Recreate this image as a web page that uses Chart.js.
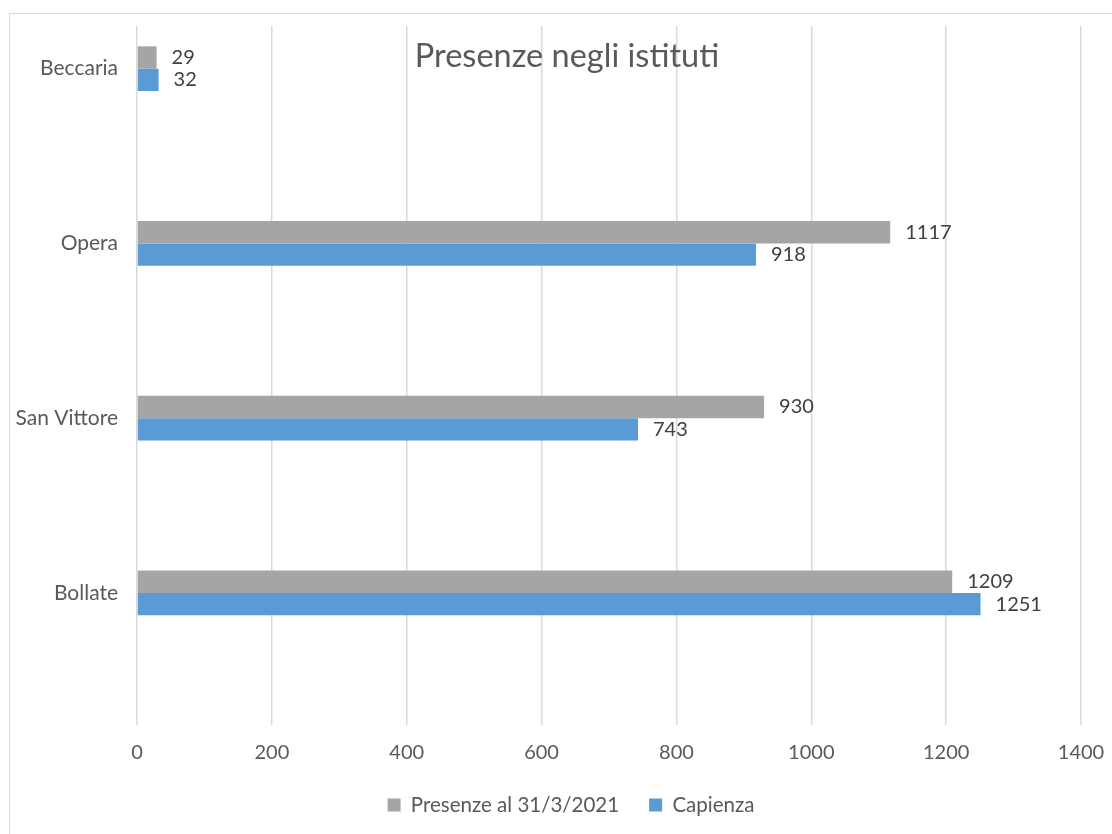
<!DOCTYPE html>
<html>
<head>
<meta charset="utf-8">
<script src="https://cdn.jsdelivr.net/npm/chart.js@4"></script>
<style>
    body { margin: 0; background: #fff; overflow: hidden; }
    #wrap { position: relative; width: 1112px; height: 834px; }
    #frame { position: absolute; left: 9px; top: 13px; width: 1200px; height: 900px; border: 1.5px solid #d9d9d9; }
    #barChart { position: absolute; left: 0; top: 0; }
</style>
</head>
<body>
<div id="wrap">
    <div id="frame"></div>
    <canvas id="barChart" width="1112" height="834"></canvas>
</div>
<script>
const istituti = ['Beccaria', 'Opera', 'San Vittore', 'Bollate'];
const presenze = [29, 1117, 930, 1209];
const capienza = [32, 918, 743, 1251];
const xTicks = [0, 200, 400, 600, 800, 1000, 1200, 1400];
const titolo = 'Presenze negli istituti';

const FONT = 'Lato, "Liberation Sans", sans-serif';
const TEXT = '#595959';

// empty series: the original Excel chart keeps room for them in each group
const empty = () => ({ label: '', data: istituti.map(() => null), backgroundColor: 'transparent' });
const catPct = 6 / 7.82; // 6 slots, Excel gap width 182%

// value labels to the right of each bar
const barLabels = {
    id: 'barLabels',
    afterDatasetsDraw(chart) {
        const c = chart.ctx;
        c.save();
        c.font = '20px ' + FONT;
        c.fillStyle = '#404040';
        c.textBaseline = 'middle';
        c.textAlign = 'left';
        [0, 1].forEach(i => {
            const ds = chart.data.datasets[i];
            chart.getDatasetMeta(i).data.forEach((el, j) => {
                c.fillText(ds.data[j], el.x + 15, el.y);
            });
        });
        c.restore();
    }
};

// Excel puts the title over the plot area; legend is centred on the frame
const titlePlugin = {
    id: 'overTitle',
    afterLayout(chart) {
        chart.legend.left = 61;
    },
    afterDraw(chart) {
        const c = chart.ctx;
        c.save();
        c.font = '32.5px ' + FONT;
        c.fillStyle = TEXT;
        c.textAlign = 'center';
        c.textBaseline = 'middle';
        c.fillText(titolo, 567, 57);
        c.restore();
    }
};

const ctx = document.getElementById('barChart').getContext('2d');
const chart = new Chart(ctx, {
    type: 'bar',
    data: {
        labels: istituti,
        datasets: [
            { label: 'Presenze al 31/3/2021', data: presenze, backgroundColor: '#A5A5A5' },
            { label: 'Capienza', data: capienza, backgroundColor: '#5B9BD5' },
            empty(), empty(), empty(), empty()
        ]
    },
    options: {
        indexAxis: 'y',
        responsive: false,
        animation: false,
        categoryPercentage: catPct,
        barPercentage: 1,
        layout: { padding: { top: 26, right: 31, bottom: 8.75, left: 0 } },
        plugins: {
            legend: {
                position: 'bottom',
                labels: {
                    boxWidth: 13,
                    boxHeight: 13,
                    padding: 30,
                    color: TEXT,
                    font: { family: FONT, size: 20.5 },
                    filter: item => item.text !== ''
                }
            },
            tooltip: { enabled: false }
        },
        scales: {
            x: {
                min: 0,
                max: 1400,
                afterBuildTicks: scale => { scale.ticks = xTicks.map(v => ({ value: v })); },
                afterFit: scale => {
                    scale.height = 39.75;
                    scale.paddingLeft = 0;
                    scale.paddingRight = 0;
                },
                grid: { color: '#d9d9d9', lineWidth: 1.5, drawTicks: false },
                border: { display: false },
                ticks: { padding: 16, color: TEXT, font: { family: FONT, size: 20 }, callback: v => String(v) }
            },
            y: {
                afterFit: scale => { scale.width = 137; },
                grid: { display: false },
                border: { display: false },
                ticks: {
                    padding: 11,
                    // labels sit beside the two real bars, not at the slot centre
                    labelOffset: -(catPct / 2 - catPct / 6) * 174.75,
                    color: TEXT,
                    font: { family: FONT, size: 21 }
                }
            }
        }
    },
    plugins: [barLabels, titlePlugin]
});
</script>
</body>
</html>
